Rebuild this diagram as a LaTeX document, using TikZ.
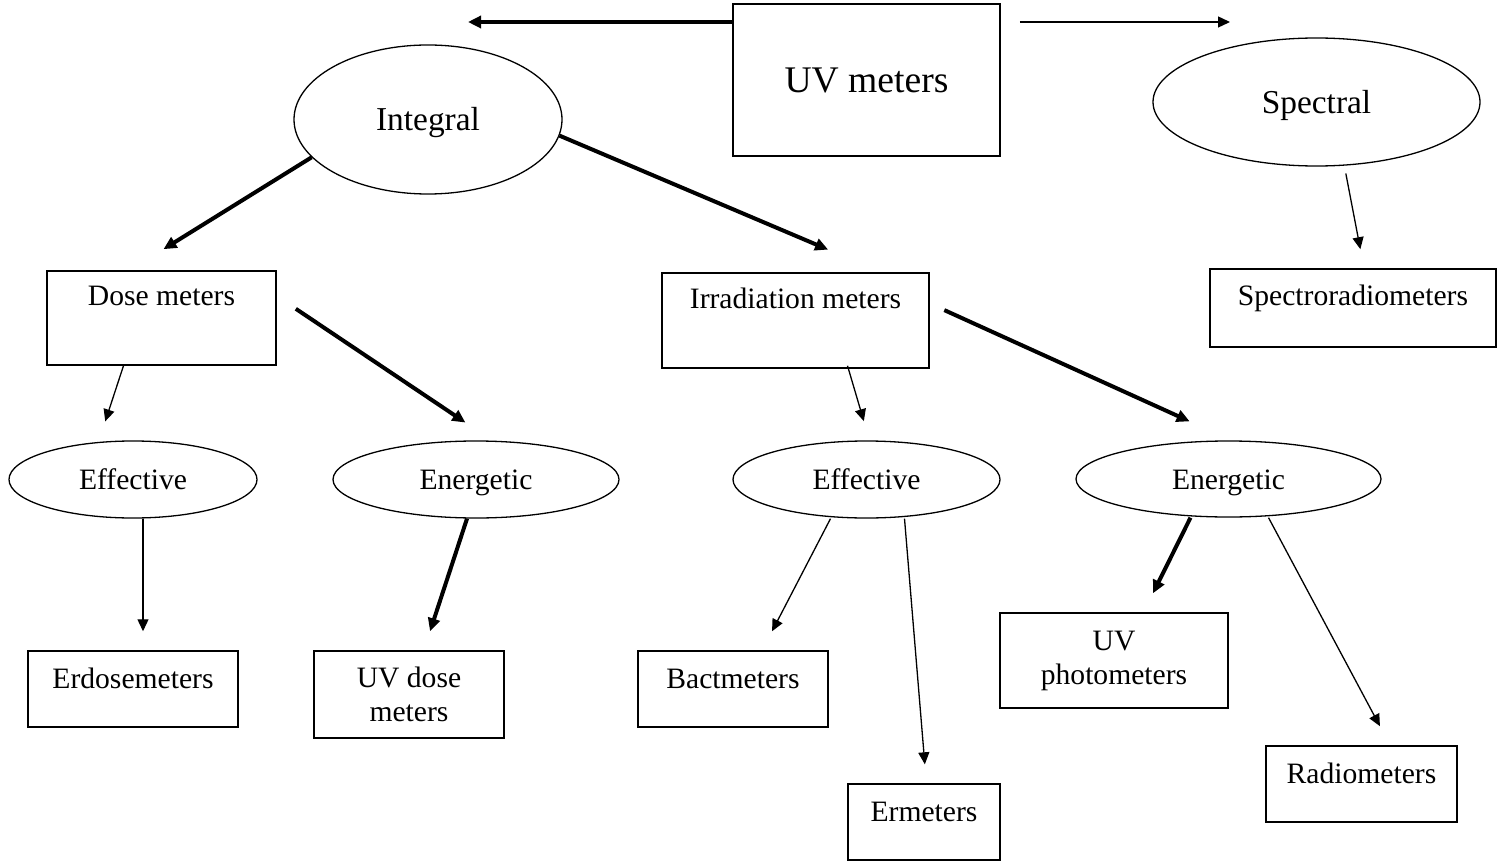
\documentclass[tikz,border=0pt]{standalone}
\usepackage{fontspec}
\setmainfont{Liberation Serif}
\usetikzlibrary{arrows.meta,shapes.geometric}

\begin{document}
\begin{tikzpicture}[
  x=0.5pt, y=-0.5pt,
  box/.style={rectangle, draw, line width=0.75pt, inner sep=2pt, align=center,
    font=\fontsize{14.8}{17}\selectfont},
  oval/.style={ellipse, draw, line width=0.65pt, inner sep=0pt,
    text height=10pt, text depth=0pt, font=\fontsize{14.8}{17}\selectfont},
  bigoval/.style={oval, text height=11.3pt, font=\fontsize{16.7}{20}\selectfont},
  toptext/.style={text height=11pt, text depth=#1},
  link/.style={-{Triangle[length=6pt, width=5.5pt]}, line width=0.65pt},
  heavylink/.style={-{Triangle[length=6.5pt, width=6pt]}, line width=2pt},
]
  \useasboundingbox (0,0) rectangle (1498,861);

  \node[box, minimum width=133.5pt, minimum height=76pt, font=\fontsize{18.8}{22}\selectfont] (uv) at (866.5,80) {UV meters};
  \node[bigoval, minimum width=134pt, minimum height=74.5pt] (integral) at (428,119.5) {Integral};
  \node[bigoval, minimum width=163.5pt, minimum height=64pt] (spectral) at (1316.5,102) {Spectral};

  \node[box, minimum width=114.5pt, minimum height=47pt, toptext=23pt] (dose) at (161.5,318) {Dose meters};
  \node[box, minimum width=133.5pt, minimum height=47.5pt, toptext=23pt] (irr) at (795.5,320.5) {Irradiation meters};
  \node[box, minimum width=143pt, minimum height=39pt, toptext=13pt] (spectro) at (1353,308) {Spectroradiometers};

  \node[oval, minimum width=124pt, minimum height=38.5pt] (eff1) at (133,479.5) {Effective};
  \node[oval, minimum width=143pt, minimum height=38.5pt] (ene1) at (476,479.5) {Energetic};
  \node[oval, minimum width=133.5pt, minimum height=38.5pt] (eff2) at (866.5,479.5) {Effective};
  \node[oval, minimum width=152.5pt, minimum height=38pt] (ene2) at (1228.5,479) {Energetic};

  \node[box, minimum width=105pt, minimum height=38pt, toptext=12pt] (erdo) at (133,689) {Erdosemeters};
  \node[box, minimum width=95pt, minimum height=43.5pt] (uvdose) at (409,694.5) {UV dose\\meters};
  \node[box, minimum width=95pt, minimum height=38pt, toptext=12pt] (bact) at (733,689) {Bactmeters};
  \node[box, minimum width=76pt, minimum height=38pt, toptext=12pt] (erm) at (924,822) {Ermeters};
  \node[box, minimum width=114pt, minimum height=47.5pt] (uvphoto) at (1114,660.5) {UV\\photometers};
  \node[box, minimum width=95.5pt, minimum height=38pt, toptext=12pt] (radio) at (1361.5,784) {Radiometers};

  \coordinate (lefttip) at (468,22);
  \coordinate (righttip) at (1230,22);

  \draw[heavylink] ([yshift=29pt]uv.west) -- (lefttip);
  \draw[link, shorten <=9.5pt] ([yshift=29pt]uv.east) -- (righttip);

  \draw[heavylink, shorten >=20pt] (integral.198) -- ([xshift=-16pt]dose.north);
  \draw[heavylink, shorten >=29pt] (integral.-7) -- ([xshift=43pt]irr.north);
  \draw[link, shorten <=3.5pt, shorten >=9.7pt] ([xshift=14pt]spectral.south) -- ([xshift=5.5pt]spectro.north);

  \draw[link, shorten >=10pt] ([xshift=-19pt]dose.south) -- ([xshift=-17pt]eff1.north);
  \draw[heavylink, shorten <=11.5pt, shorten >=16pt] ([yshift=11pt]dose.east) -- ([xshift=8pt]ene1.north);
  \draw[link, shorten >=10pt] ([xshift=26pt, yshift=1.5pt]irr.south) -- ([xshift=1.5pt]eff2.north);
  \draw[heavylink, shorten <=8pt, shorten >=23pt] ([yshift=8.5pt]irr.east) -- ([xshift=1.5pt]ene2.north);

  \draw[link, shorten >=9.5pt] ([xshift=5pt]eff1.south) -- ([xshift=5pt]erdo.north);
  \draw[heavylink, shorten >=10pt] ([xshift=-4.5pt]ene1.south) -- ([xshift=7.4pt]uvdose.north);
  \draw[link, shorten >=10.7pt] ([xshift=-18pt]eff2.south) -- ([xshift=14.6pt]bact.north);
  \draw[link, shorten >=9.5pt] ([xshift=19pt]eff2.south) -- ([xshift=1.2pt]erm.north);
  \draw[heavylink, shorten >=10.6pt] ([xshift=-19pt]ene2.south) -- ([xshift=14.8pt]uvphoto.north);
  \draw[link, shorten >=10.8pt] ([xshift=20pt]ene2.south) -- ([xshift=14.3pt]radio.north);
\end{tikzpicture}
\end{document}
